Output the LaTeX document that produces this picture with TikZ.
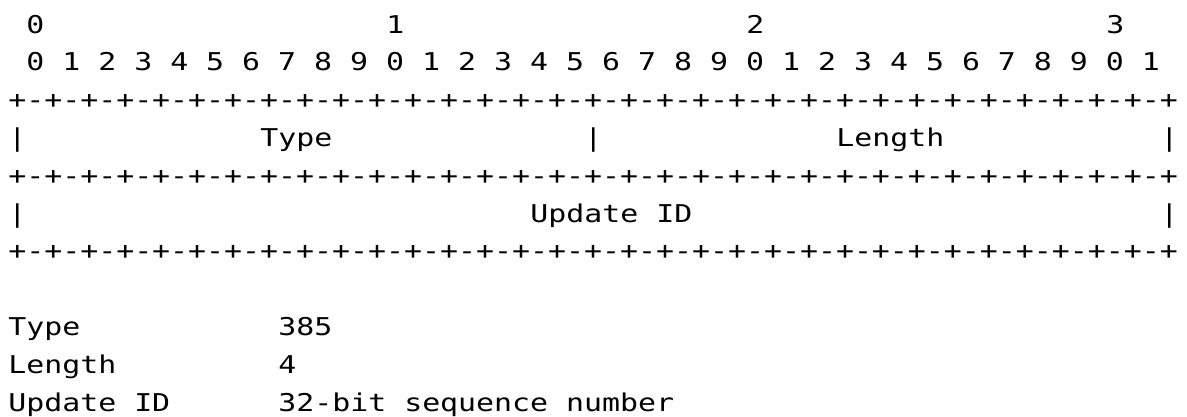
\documentclass[tikz,border=0pt]{standalone}
\usepackage{fontspec}
\usepackage{tikz}

\newfontfamily\rfcmono[FakeStretch=1.22,WordSpace={1,0,0}]{DejaVu Sans Mono}
% one ruler row: a plus and 32 dash-plus pairs
\newcommand\rfcquad{-+-+-+-+}
\newcommand\rfcrule{+\rfcquad\rfcquad\rfcquad\rfcquad\rfcquad\rfcquad\rfcquad\rfcquad}

\tikzset{
  cell/.style={anchor=base west,inner sep=0pt,outer sep=0pt,
    font=\rfcmono\fontsize{24.5}{30}\selectfont}
}

\begin{document}
\begin{tikzpicture}
  % frame of the whole figure
  \useasboundingbox (0pt,0pt) rectangle (1187pt,-416pt);
  % one unit = one character column / one text line
  \begin{scope}[shift={(8.3pt,-33pt)},x=18pt,y=-37.8pt]
    % bit numbers
    \node[cell] (tens0) at (1,0) {0};
    \node[cell] (tens1) at (21,0) {1};
    \node[cell] (tens2) at (41,0) {2};
    \node[cell] (tens3) at (61,0) {3};
    \node[cell] (ones) at (1,1) {0 1 2 3 4 5 6 7 8 9 0 1 2 3 4 5 6 7 8 9 0 1 2 3 4 5 6 7 8 9 0 1};
    % first word: Type and Length
    \node[cell] (rule0) at (0,2) {\rfcrule};
    \node[cell] (bar0) at (0,3) {|};
    \node[cell] (type) at (14,3) {Type};
    \node[cell] (bar1) at (32,3) {|};
    \node[cell] (length) at (46,3) {Length};
    \node[cell] (bar2) at (64,3) {|};
    \node[cell] (rule1) at (0,4) {\rfcrule};
    % second word: Update ID
    \node[cell] (bar3) at (0,5) {|};
    \node[cell] (update) at (29,5) {Update ID};
    \node[cell] (bar4) at (64,5) {|};
    \node[cell] (rule2) at (0,6) {\rfcrule};
    % field values
    \node[cell] (typekey) at (0,8) {Type};
    \node[cell] (typeval) at (15,8) {385};
    \node[cell] (lenkey) at (0,9) {Length};
    \node[cell] (lenval) at (15,9) {4};
    \node[cell] (updkey) at (0,10) {Update ID};
    \node[cell] (updval) at (15,10) {32-bit sequence number};
  \end{scope}
\end{tikzpicture}
\end{document}
